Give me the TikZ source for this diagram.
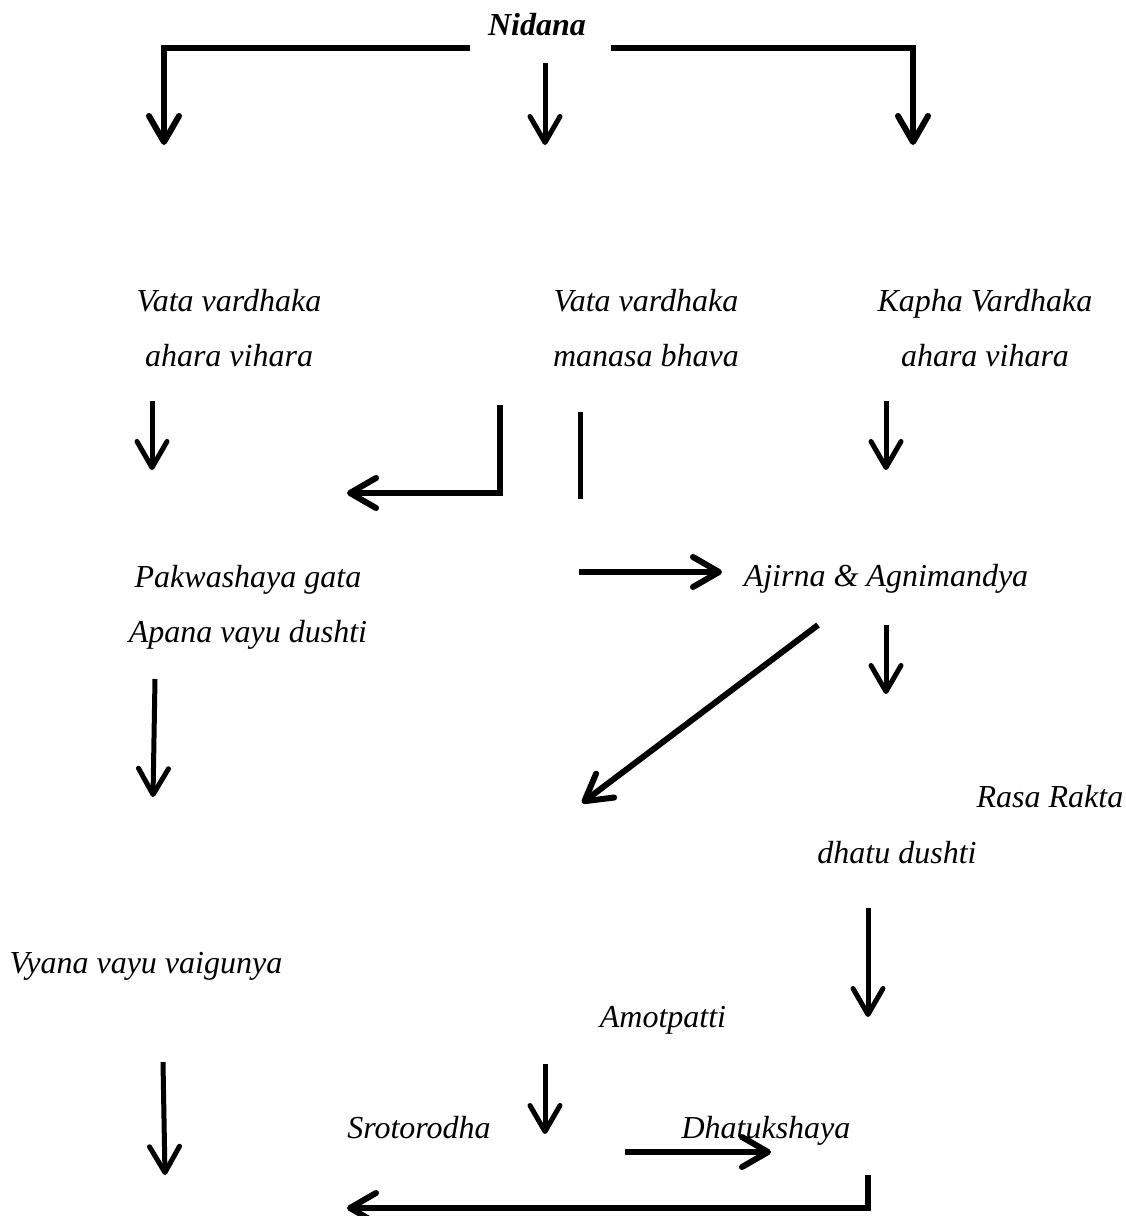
\documentclass[tikz,border=0pt]{standalone}
\usepackage{fontspec}
\setmainfont{Liberation Serif}
\usetikzlibrary{arrows.meta}

\begin{document}
\begin{tikzpicture}[
  x=1pt, y=-1pt,
  >={Straight Barb[length=26pt,width=30pt,round]},
  term/.style={inner sep=0pt, align=center, font=\fontsize{32}{55}\selectfont\itshape},
  title/.style={term, font=\fontsize{32}{55}\selectfont\bfseries\itshape},
  flow/.style={->, line width=5pt},
  elbow/.style={->, line width=6pt},
  bar/.style={line width=5pt}
]
  \useasboundingbox (0,0) rectangle (1125,1216);

  % texts
  \node[title, anchor=base] (nidana) at (537,35) {Nidana};
  \node[term] (vataahara) at (229,328) {Vata vardhaka\\ahara vihara};
  \node[term] (vatamanas) at (646,328) {Vata vardhaka\\manasa bhava};
  \node[term] (kapha) at (985,328) {Kapha Vardhaka\\ahara vihara};
  \node[term] (apana) at (248,607) {Pakwashaya gata\\Apana vayu dushti};
  \node[term, anchor=base] (ajirna) at (886,586) {Ajirna \& Agnimandya};
  \node[term, anchor=base] (rasa) at (1050,807) {Rasa Rakta};
  \node[term, anchor=base] (dhatu) at (897,863) {dhatu dushti};
  \node[term, anchor=base] (vyana) at (146,973) {Vyana vayu vaigunya};
  \node[term, anchor=base] (amot) at (663,1027) {Amotpatti};
  \node[term, anchor=base] (sroto) at (419,1138) {Srotorodha};
  \node[term, anchor=base] (kshaya) at (766,1138) {Dhatukshaya};

  % arrow ends
  \coordinate (n1) at (470,48);   \coordinate (n1e) at (164,145);
  \coordinate (n2) at (545,63);   \coordinate (n2e) at (545,145);
  \coordinate (n3) at (611,48);   \coordinate (n3e) at (913,145);
  \coordinate (va1) at (152,401); \coordinate (va1e) at (152,470);
  \coordinate (vm1) at (500,405); \coordinate (vm1e) at (347,493);
  \coordinate (vm2) at (580,412); \coordinate (vm2e) at (580,499);
  \coordinate (ka1) at (886,401); \coordinate (ka1e) at (886,470);
  \coordinate (aj0) at (579,572); \coordinate (aj0e) at (722,572);
  \coordinate (ap1) at (155,679); \coordinate (ap1e) at (153,797);
  \coordinate (aj1) at (818,625); \coordinate (aj1e) at (582,803);
  \coordinate (aj2) at (886,625); \coordinate (aj2e) at (886,694);
  \coordinate (dh1) at (868,908); \coordinate (dh1e) at (868,1017);
  \coordinate (vy1) at (163,1062); \coordinate (vy1e) at (165,1175);
  \coordinate (am1) at (545,1064); \coordinate (am1e) at (545,1134);
  \coordinate (sr1) at (625,1152); \coordinate (sr1e) at (771,1152);
  \coordinate (dk1) at (868,1175); \coordinate (dk1e) at (347,1208);

  % connectors
  \draw[elbow] (n1) -| (n1e);
  \draw[flow] (n2) -- (n2e);
  \draw[elbow] (n3) -| (n3e);
  \draw[flow] (va1) -- (va1e);
  \draw[elbow] (vm1) |- (vm1e);
  \draw[bar] (vm2) -- (vm2e);
  \draw[flow] (ka1) -- (ka1e);
  \draw[elbow] (aj0) -- (aj0e);
  \draw[flow] (ap1) -- (ap1e);
  \draw[elbow] (aj1) -- (aj1e);
  \draw[flow] (aj2) -- (aj2e);
  \draw[flow] (dh1) -- (dh1e);
  \draw[flow] (vy1) -- (vy1e);
  \draw[flow] (am1) -- (am1e);
  \draw[elbow] (sr1) -- (sr1e);
  \draw[elbow] (dk1) |- (dk1e);
\end{tikzpicture}
\end{document}
